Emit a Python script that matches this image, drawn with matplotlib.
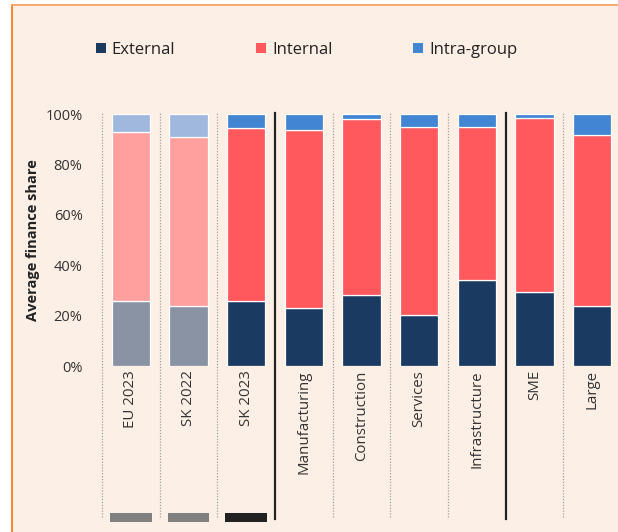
import matplotlib
matplotlib.use('Agg')

import matplotlib.pyplot as plt
import matplotlib.transforms as mtransforms
from matplotlib.patches import Rectangle
from matplotlib.lines import Line2D

plt.rcParams['font.family'] = ['Open Sans', 'DejaVu Sans']

categories = ['EU 2023', 'SK 2022', 'SK 2023', 'Manufacturing', 'Construction',
              'Services', 'Infrastructure', 'SME', 'Large']
external = [25.9, 23.7, 25.9, 23.0, 28.2, 20.2, 34.0, 29.4, 23.7]
internal = [66.8, 67.0, 68.4, 70.5, 69.9, 74.6, 60.8, 69.0, 68.0]
intra = [7.3, 9.3, 5.7, 6.5, 1.9, 5.2, 5.2, 1.6, 8.3]
faded = [True, True, False, False, False, False, False, False, False]
marker_colors = ['#808080', '#808080', '#222222']
series = ['External', 'Internal', 'Intra-group']

col_full = ['#1B3A62', '#FF585D', '#4285D2']
col_fade = ['#8A93A3', '#FFA09F', '#A0B8DE']
bg = '#FCEFE6'

W, H = 618, 532
fig = plt.figure(figsize=(W / 100, H / 100), dpi=100)
fig.patch.set_facecolor('white')

# peach panel with orange left/top border
fig.patches.append(Rectangle((12 / W, 0), 1, 1 - 5 / H, transform=fig.transFigure,
                             facecolor=bg, edgecolor='none', zorder=-10))
fig.lines.append(Line2D([12 / W, 12 / W], [0, 1 - 5 / H], transform=fig.transFigure,
                        color='#F47B20', lw=1.3))
fig.lines.append(Line2D([12 / W, 1], [1 - 5 / H, 1 - 5 / H], transform=fig.transFigure,
                        color='#F7A066', lw=1.3))

ax = fig.add_axes([102 / W, 166 / H, 519 / W, 252 / H])
ax.set_facecolor('none')
for s in ax.spines.values():
    s.set_visible(False)

x = list(range(len(categories)))
bottoms = [0] * len(categories)
for k, vals in enumerate([external, internal, intra]):
    colors = [col_fade[k] if f else col_full[k] for f in faded]
    ax.bar(x, vals, bottom=bottoms, width=0.66, color=colors,
           edgecolor='white', linewidth=0.9)
    bottoms = [b + v for b, v in zip(bottoms, vals)]

ax.set_xlim(-0.5, len(categories) - 0.5)
ax.set_ylim(0, 100)
ax.set_yticks([0, 20, 40, 60, 80, 100])
ax.set_yticklabels(['0%', '20%', '40%', '60%', '80%', '100%'], fontsize=10.5, color='#333333')
ax.set_xticks(x)
ax.set_xticklabels(categories, rotation=90, fontsize=10.8, color='#333333', va='top')
ax.tick_params(axis='both', length=0)
ax.tick_params(axis='y', pad=14)
ax.tick_params(axis='x', pad=3)

# separators: x in data, y in figure
trans = mtransforms.blended_transform_factory(ax.transData, fig.transFigure)
for i in range(len(categories)):
    xb = i - 0.5
    if i in (3, 7):
        ax.add_line(Line2D([xb, xb], [1 - 519 / H, 1 - 113 / H], transform=trans,
                           color='#222222', lw=1.6, clip_on=False))
    else:
        ax.add_line(Line2D([xb, xb], [1 - 517 / H, 1 - 113 / H], transform=trans,
                           color='#A0A0A0', lw=0.9, ls=(0, (1, 1.3)), clip_on=False))

# group markers under first three labels
for i, c in enumerate(marker_colors):
    ax.add_patch(Rectangle((i - 0.36, 1 - 522 / H), 0.72, 9 / H, transform=trans,
                           facecolor=c, edgecolor='none', clip_on=False))

fig.text(33 / W, 1 - 240 / H, 'Average finance share', rotation=90, ha='center',
         va='center', fontsize=10.5, fontweight='bold', color='#222222')

handles = [Rectangle((0, 0), 1, 1, facecolor=c, edgecolor='none') for c in col_full]
fig.legend(handles, series, loc='center left', bbox_to_anchor=(96 / W, 1 - 50 / H),
           ncol=3, frameon=False, fontsize=12, handlelength=0.6, handleheight=0.6,
           handletextpad=0.35, columnspacing=4.85, borderaxespad=0, borderpad=0,
           labelcolor='#222222')

fig.savefig('out.png', dpi=100, facecolor=fig.get_facecolor())
plt.close(fig)
